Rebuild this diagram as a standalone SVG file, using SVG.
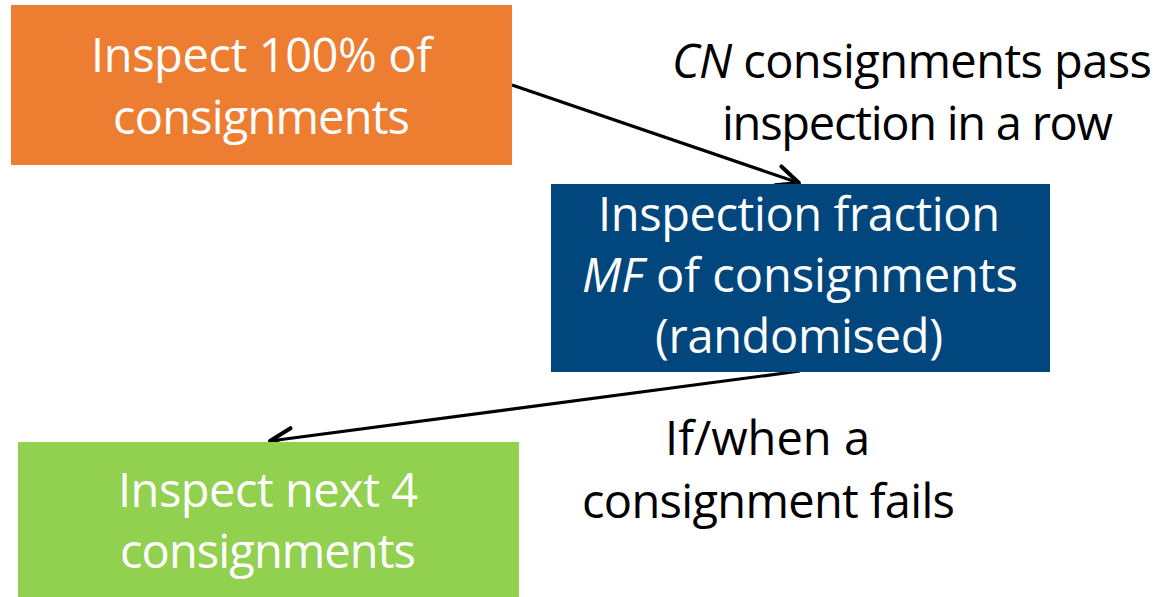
<svg xmlns="http://www.w3.org/2000/svg" width="1172" height="597" viewBox="0 0 1172 597">
  <style>
    text { font-family: "Open Sans", "Noto Sans", "Liberation Sans", sans-serif; font-size: 47px; text-anchor: middle; }
    .w { fill: #ffffff; }
    .k { fill: #000000; }
    .i { font-style: italic; }
    .conn { stroke: #000000; stroke-width: 3.2; fill: none; marker-end: url(#arr); }
  </style>
  <defs>
    <marker id="arr" viewBox="0 0 28 28" refX="25" refY="14" markerWidth="28" markerHeight="28" markerUnits="userSpaceOnUse" orient="auto">
      <path d="M3,4 L25,14 L3,24" fill="none" stroke="#000000" stroke-width="4" stroke-linecap="round" stroke-linejoin="round"/>
    </marker>
  </defs>
  <rect width="1172" height="597" fill="#ffffff"/>
  <g id="connectors">
    <line class="conn" x1="512" y1="85" x2="799" y2="183"/>
    <line class="conn" x1="800" y1="371" x2="270" y2="441"/>
  </g>
  <g id="node-inspect-all">
    <rect x="11" y="5" width="501" height="160" fill="#ED7D31"/>
    <text class="w" x="261.5" y="72" textLength="341">Inspect 100% of</text>
    <text class="w" x="261.5" y="134" textLength="297">consignments</text>
  </g>
  <g id="node-fraction">
    <rect x="551" y="184" width="499" height="188" fill="#02467E"/>
    <text class="w" x="799" y="231" textLength="402">Inspection fraction</text>
    <text class="w" x="800" y="292" textLength="436"><tspan class="i">MF</tspan> of consignments</text>
    <text class="w" x="799" y="353" textLength="288">(randomised)</text>
  </g>
  <g id="node-next4">
    <rect x="18" y="442" width="501" height="155" fill="#92D050"/>
    <text class="w" x="268" y="507" textLength="300">Inspect next 4</text>
    <text class="w" x="268" y="568" textLength="296">consignments</text>
  </g>
  <g id="label-pass">
    <text class="k" x="912" y="78" textLength="480"><tspan class="i">CN</tspan> consignments pass</text>
    <text class="k" x="917.5" y="140" textLength="391">inspection in a row</text>
  </g>
  <g id="label-fail">
    <text class="k" x="767.5" y="455" textLength="205">If/when a</text>
    <text class="k" x="768.5" y="518" textLength="373">consignment fails</text>
  </g>
</svg>
